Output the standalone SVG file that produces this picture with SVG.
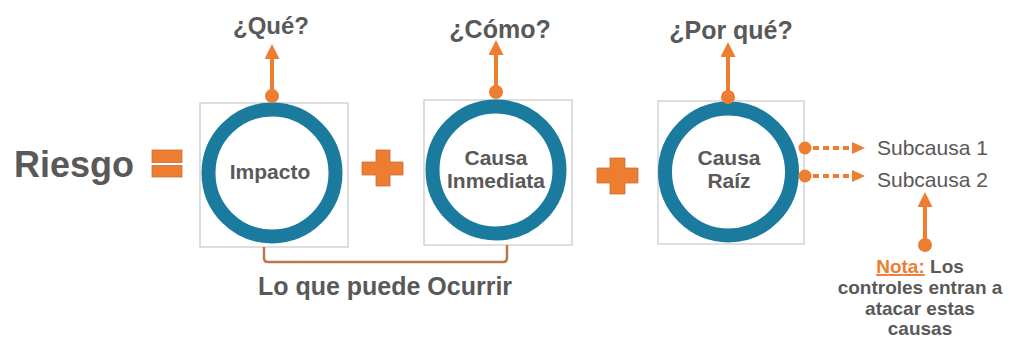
<svg xmlns="http://www.w3.org/2000/svg" width="1009" height="339" viewBox="0 0 1009 339">
<style>
text{font-family:"Liberation Sans",Arial,sans-serif;fill:#595959}
.b{font-weight:bold}
.box{fill:#fff;stroke:#c8c8c8;stroke-width:1.2}
.ring{fill:#fff;stroke:#1b7b9e;stroke-width:14}
.op{fill:#ed7d31;stroke:#c9703a;stroke-width:0.8}
.ar{stroke:#ed7d31;stroke-width:4;fill:none}
.dot{fill:#ed7d31}
.dash{stroke:#ed7d31;stroke-width:4;stroke-dasharray:6 4;fill:none}
.brk{stroke:#c0734c;stroke-width:2.5;fill:none}
</style>
<defs>
<marker id="head" markerUnits="userSpaceOnUse" markerWidth="15" markerHeight="15" refX="0" refY="7.5" orient="auto">
<path d="M0,0 L15,7.5 L0,15 Z" fill="#ed7d31"/>
</marker>
<marker id="headS" markerUnits="userSpaceOnUse" markerWidth="13" markerHeight="12" refX="0" refY="6" orient="auto">
<path d="M0,0 L13,6 L0,12 Z" fill="#ed7d31"/>
</marker>
</defs>
<rect width="1009" height="339" fill="#fff"/>

<g id="riesgo">
<text class="b" x="14" y="177" font-size="36">Riesgo</text>
</g>
<g id="equals">
<rect class="op" x="152" y="150" width="30" height="12.5"/>
<rect class="op" x="152" y="165.5" width="30" height="11.5"/>
</g>

<g id="impacto">
<rect class="box" x="200" y="103" width="148" height="144"/>
<circle class="ring" cx="272" cy="173" r="63.5"/>
<text class="b" x="270" y="179" font-size="21" text-anchor="middle">Impacto</text>
</g>

<g id="plus1">
<path class="op" d="M376,150 H390 V162 H403 V175 H390 V186 H376 V175 H362 V162 H376 Z"/>
</g>

<g id="causa-inmediata">
<rect class="box" x="424" y="100" width="148" height="145"/>
<circle class="ring" cx="496" cy="170" r="63.5"/>
<text class="b" x="496" y="165" font-size="21" text-anchor="middle">Causa</text>
<text class="b" x="496" y="188" font-size="21" text-anchor="middle">Inmediata</text>
</g>

<g id="plus2">
<path class="op" d="M610,158 H625 V168 H638 V183 H625 V194 H610 V183 H597 V168 H610 Z"/>
</g>

<g id="causa-raiz">
<rect class="box" x="658" y="101" width="146" height="143"/>
<circle class="ring" cx="728.5" cy="172" r="63.5"/>
<text class="b" x="729" y="165" font-size="21" text-anchor="middle">Causa</text>
<text class="b" x="729" y="188" font-size="21" text-anchor="middle">Raíz</text>
</g>

<g id="q-que"><text class="b" x="271" y="34" font-size="24" text-anchor="middle">¿Qué?</text></g>
<g id="q-como"><text class="b" x="500" y="38" font-size="25" text-anchor="middle">¿Cómo?</text></g>
<g id="q-porque"><text class="b" x="731" y="39" font-size="25" text-anchor="middle">¿Por qué?</text></g>

<g id="subcausa1"><text x="877" y="155" font-size="21">Subcausa 1</text></g>
<g id="subcausa2"><text x="877" y="187" font-size="21">Subcausa 2</text></g>

<g id="nota">
<text class="b" font-size="19" text-anchor="middle" x="920" y="273"><tspan fill="#ed7d31" text-decoration="underline" style="fill:#ed7d31">Nota:</tspan> Los</text>
<text class="b" font-size="19" text-anchor="middle" x="920" y="294">controles entran a</text>
<text class="b" font-size="19" text-anchor="middle" x="920" y="315">atacar estas</text>
<text class="b" font-size="19" text-anchor="middle" x="920" y="335">causas</text>
</g>

<g id="lo-que-puede">
<text class="b" x="385" y="295" font-size="25" text-anchor="middle">Lo que puede Ocurrir</text>
</g>

<g id="connectors">
<path class="ar" d="M272,96 V59" marker-end="url(#head)"/>
<circle class="dot" cx="272" cy="96" r="7"/>
<path class="ar" d="M496,92 V55" marker-end="url(#head)"/>
<circle class="dot" cx="496" cy="92" r="7"/>
<path class="ar" d="M728,97 V57" marker-end="url(#head)"/>
<circle class="dot" cx="728" cy="97" r="7"/>
<path class="dash" d="M813,148 H852" marker-end="url(#headS)"/>
<circle class="dot" cx="805" cy="148" r="6.5"/>
<path class="dash" d="M813,176 H852" marker-end="url(#headS)"/>
<circle class="dot" cx="805" cy="176" r="6.5"/>
<path class="ar" d="M925,245 V207" marker-end="url(#head)"/>
<circle class="dot" cx="925" cy="245" r="7"/>
<path class="brk" d="M264,247 V258 Q264,262 268,262 H503 Q507,262 507,258 V245"/>
</g>
</svg>
